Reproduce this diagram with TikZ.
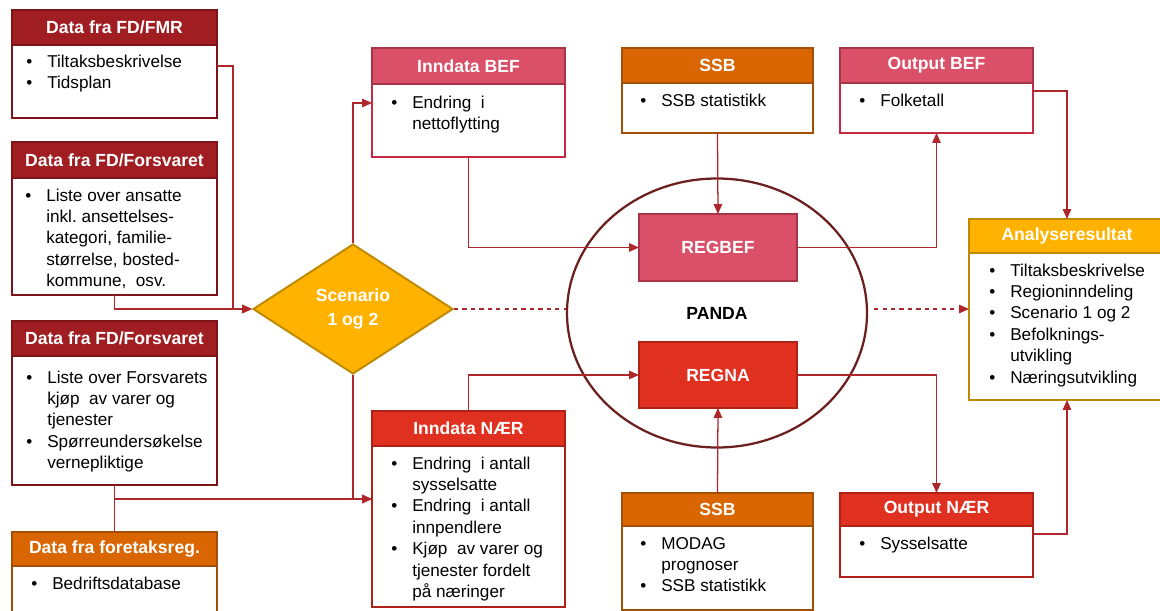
\documentclass[tikz,border=0pt]{standalone}
\usepackage{fontspec}
\setmainfont{Liberation Sans}
\usepackage{tikz}
\usetikzlibrary{arrows.meta}
\usetikzlibrary{shapes.geometric}

\newlength\unitpx
\setlength\unitpx{0.025cm}
\definecolor{dredfill}{HTML}{A01D22}
\definecolor{dredline}{HTML}{7D1518}
\definecolor{orngfill}{HTML}{D96600}
\definecolor{orngline}{HTML}{A34F06}
\definecolor{pinkfill}{HTML}{DA5068}
\definecolor{pinkline}{HTML}{A83448}
\definecolor{pinkbody}{HTML}{C42A42}
\definecolor{redfill}{HTML}{E03020}
\definecolor{redline}{HTML}{AE2116}
\definecolor{goldfill}{HTML}{FFB300}
\definecolor{goldline}{HTML}{C08A00}
\definecolor{linkred}{HTML}{B0272B}
\definecolor{circbrown}{HTML}{6B1F1F}

\newcommand\itemlist[1]{\begin{tabular}{@{}p{21\unitpx}@{}l@{}}#1\end{tabular}}

\tikzset{
  hdr/.style 2 args={fill=#1, draw=#2, line width=1.4pt, anchor=north west,
    inner sep=0pt, outer sep=0pt, text=white,
    font=\fontsize{12.5}{15}\selectfont\bfseries},
  bdy/.style={fill=white, draw=#1, line width=1.4pt, anchor=north west,
    inner sep=0pt, outer sep=0pt},
  items/.style={anchor=north west, inner sep=0pt,
    font=\fontsize{12.2}{15.2}\selectfont},
  model/.style 2 args={fill=#1, draw=#2, line width=1.4pt, inner sep=0pt,
    outer sep=0pt, text=white, minimum width=158\unitpx,
    font=\fontsize{12.5}{15}\selectfont\bfseries},
  link/.style={draw=linkred, line width=0.9pt, -{Triangle[length=7pt,width=6pt]}},
  wire/.style={draw=linkred, line width=0.9pt},
}

\begin{document}
\begin{tikzpicture}[x=0.025cm,y=-0.025cm]
\useasboundingbox (0,0) rectangle (1160,611);

% left column
\node[bdy=dredline, minimum width=205\unitpx, minimum height=73\unitpx] (fmr) at (12,45) {};
\node[hdr={dredfill}{dredline}, minimum width=205\unitpx, minimum height=35\unitpx] (fmrhd) at (12,10) {Data fra FD/FMR};
\node[items] (fmrtxt) at (26,52) {\itemlist{\textbullet & Tiltaksbeskrivelse\\ \textbullet & Tidsplan}};

\node[bdy=dredline, minimum width=205\unitpx, minimum height=117\unitpx] (forsv) at (12,178) {};
\node[hdr={dredfill}{dredline}, minimum width=205\unitpx, minimum height=36\unitpx] (forsvhd) at (12,142) {Data fra FD/Forsvaret};
\node[items] (forsvtxt) at (25,186) {\itemlist{\textbullet & Liste over ansatte\\ & inkl.\ ansettelses-\\ & kategori, familie-\\ & størrelse, bosted-\\ & kommune,\ \ osv.}};

\node[bdy=dredline, minimum width=205\unitpx, minimum height=129\unitpx] (kjop) at (12,356) {};
\node[hdr={dredfill}{dredline}, minimum width=205\unitpx, minimum height=35\unitpx] (kjophd) at (12,321) {Data fra FD/Forsvaret};
\node[items] (kjoptxt) at (26,368) {\itemlist{\textbullet & Liste over Forsvarets\\ & kjøp\ \ av varer og\\ & tjenester\\ \textbullet & Spørreundersøkelse\\ & vernepliktige}};

\node[bdy=orngline, minimum width=205\unitpx, minimum height=90\unitpx] (foretak) at (12,566) {};
\node[hdr={orngfill}{orngline}, minimum width=205\unitpx, minimum height=34\unitpx] (foretakhd) at (12,532) {Data fra foretaksreg.};
\node[items] (foretaktxt) at (31,574) {\itemlist{\textbullet & Bedriftsdatabase}};

% scenario
\node[diamond, fill=goldfill, draw=goldline, line width=1.4pt, inner sep=0pt,
  minimum width=200\unitpx, minimum height=130\unitpx, text=white, align=center,
  font=\fontsize{12.5}{17}\selectfont\bfseries] (scen) at (353,309) {Scenario\\1 og 2};

% input boxes
\node[bdy=pinkbody, minimum width=193\unitpx, minimum height=73\unitpx] (bef) at (372,84) {};
\node[hdr={pinkfill}{pinkline}, minimum width=193\unitpx, minimum height=36\unitpx] (befhd) at (372,48) {Inndata BEF};
\node[items] (beftxt) at (391,93) {\itemlist{\textbullet & Endring\ \ i\\ & nettoflytting}};

\node[bdy=redline, minimum width=193\unitpx, minimum height=161\unitpx] (naer) at (372,446) {};
\node[hdr={redfill}{redline}, minimum width=193\unitpx, minimum height=35\unitpx] (naerhd) at (372,411) {Inndata NÆR};
\node[items] (naertxt) at (391,454) {\itemlist{\textbullet & Endring\ \ i antall\\ & sysselsatte\\ \textbullet & Endring\ \ i antall\\ & innpendlere\\ \textbullet & Kjøp\ \ av varer og\\ & tjenester fordelt\\ & på næringer}};

% SSB
\node[bdy=orngline, minimum width=191\unitpx, minimum height=50\unitpx] (ssba) at (622,83) {};
\node[hdr={orngfill}{orngline}, minimum width=191\unitpx, minimum height=35\unitpx] (ssbahd) at (622,48) {SSB};
\node[items] (ssbatxt) at (640,91) {\itemlist{\textbullet & SSB statistikk}};

\node[bdy=orngline, minimum width=191\unitpx, minimum height=84\unitpx] (ssbb) at (622,526) {};
\node[hdr={orngfill}{orngline}, minimum width=191\unitpx, minimum height=33\unitpx] (ssbbhd) at (622,493) {SSB};
\node[items] (ssbbtxt) at (640,534) {\itemlist{\textbullet & MODAG\\ & prognoser\\ \textbullet & SSB statistikk}};

% PANDA
\node[ellipse, draw=circbrown, line width=1.6pt, inner sep=0pt,
  minimum width=300\unitpx, minimum height=269\unitpx,
  font=\fontsize{12.5}{15}\selectfont\bfseries] (panda) at (717,313) {PANDA};
\node[model={pinkfill}{pinkline}, minimum height=67\unitpx] (regbef) at (718,247.5) {REGBEF};
\node[model={redfill}{redline}, minimum height=66\unitpx] (regna) at (718,375) {REGNA};

% output
\node[bdy=pinkbody, minimum width=193\unitpx, minimum height=50\unitpx] (obef) at (840,83) {};
\node[hdr={pinkfill}{pinkline}, minimum width=193\unitpx, minimum height=35\unitpx] (obefhd) at (840,48) {Output BEF};
\node[items] (obeftxt) at (859,91) {\itemlist{\textbullet & Folketall}};

\node[bdy=redline, minimum width=193\unitpx, minimum height=51\unitpx] (onaer) at (840,526) {};
\node[hdr={redfill}{redline}, minimum width=193\unitpx, minimum height=33\unitpx] (onaerhd) at (840,493) {Output NÆR};
\node[items] (onaertxt) at (859,534) {\itemlist{\textbullet & Sysselsatte}};

\node[bdy=goldline, minimum width=196\unitpx, minimum height=147\unitpx] (ana) at (969,253) {};
\node[hdr={goldfill}{goldline}, minimum width=196\unitpx, minimum height=34\unitpx] (anahd) at (969,219) {Analyseresultat};
\node[items] (anatxt) at (989,261) {\itemlist{\textbullet & Tiltaksbeskrivelse\\ \textbullet & Regioninndeling\\ \textbullet & Scenario 1 og 2\\ \textbullet & Befolknings-\\ & utvikling\\ \textbullet & Næringsutvikling}};

% connectors
\coordinate (befin) at ([yshift=-19\unitpx]bef.north west);
\coordinate (naerin) at ([yshift=-53\unitpx]naer.north west);
\draw[link] ([yshift=-21\unitpx]fmr.north east) -- ++(16,0) |- (scen.west);
\draw[link] (forsv.south) |- (scen.west);
\draw[wire] (kjop.south) -- (foretakhd.north);
\draw[link] (kjop.south) |- (naerin);
\draw[link] (scen.south) |- (naerin);
\draw[link] (scen.north) |- (befin);
\draw[link] (bef.south) |- (regbef.west);
\draw[link] (naerhd.north) |- (regna.west);
\draw[link] (ssba.south) -- (regbef.north);
\draw[link] (ssbbhd.north) -- (regna.south);
\draw[link] (regbef.east) -| (obef.south);
\draw[link] (regna.east) -| (onaerhd.north);
\draw[link] ([yshift=-8\unitpx]obef.north east) -| (anahd.north);
\draw[link] ([yshift=-8\unitpx]onaer.north east) -| (ana.south);
\draw[wire, dashed] (scen.east) -- (scen.east -| panda.west);
\draw[link, dashed] ([xshift=6\unitpx]scen.east -| panda.east) -- (scen.east -| ana.west);
\end{tikzpicture}
\end{document}
